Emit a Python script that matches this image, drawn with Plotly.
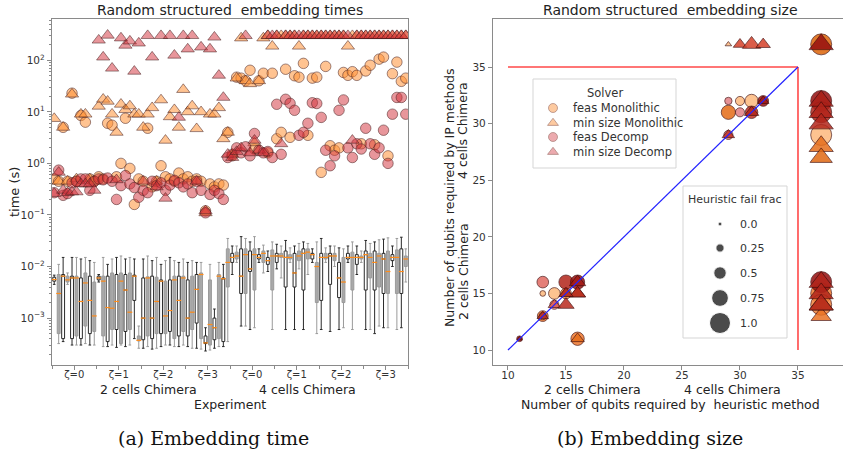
import plotly.graph_objects as go

W, H = 843, 456
def px(x): return x / W
def py(y): return 1 - y / H

# ---------------- data: left panel (embedding times) ----------------
group_labels = ["ζ=0", "ζ=1", "ζ=2", "ζ=3", "ζ=0", "ζ=1", "ζ=2", "ζ=3"]
per_group = 10

box_lo = [4.5e-3,3.2e-4,3.5e-4,4.5e-3,3e-4,3e-4,3e-4,3.2e-4,3e-4,3e-4,
          5e-3,2.8e-4,2.8e-4,3e-4,2.7e-4,3e-4,2.8e-4,3e-4,4e-4,2.6e-4,
          2.6e-4,2.8e-4,2.5e-4,2.6e-4,2.8e-4,3e-4,3e-4,2.8e-4,2.8e-4,3e-4,
          2.8e-4,2.6e-4,2.6e-4,2.5e-4,2.3e-4,2.4e-4,2.6e-4,2.8e-4,2.8e-4,3.5e-4,
          7e-3,1.2e-2,7e-4,7e-4,6e-4,6.5e-4,1.2e-2,7.5e-3,8e-3,6e-4,
          9e-3,6e-3,6e-4,1.2e-2,6e-4,9e-3,6e-4,7e-3,1.2e-2,5e-4,
          6e-4,1.2e-2,5.5e-4,1e-2,6e-4,6.5e-4,1.2e-2,6e-4,7e-3,1.2e-2,
          6e-4,6e-4,5e-4,7e-4,6.5e-4,6.5e-4,1e-2,6e-4,6.5e-4,5e-3]
box_q1 = [5.2e-3,5e-4,4e-4,5e-3,4e-4,4.5e-4,4e-4,7e-4,5e-4,5.5e-4,
          5.5e-3,4.5e-4,3.5e-4,6e-4,6e-4,3.2e-4,5.5e-4,6e-4,2.2e-3,3.6e-4,
          3.8e-4,4.5e-4,4e-4,5e-4,5e-4,5e-4,5.5e-4,4e-4,4.5e-4,5.5e-4,
          4.5e-4,6e-4,8e-4,4e-4,3.2e-4,3e-4,3.8e-4,4e-4,3.5e-4,4e-3,
          1.2e-2,1.4e-2,3e-3,3e-3,8e-3,3.5e-3,1.4e-2,1.2e-2,1.1e-2,3.5e-3,
          1.2e-2,1.5e-2,4e-3,1.4e-2,4e-3,1.3e-2,3.5e-3,1.4e-2,1.4e-2,2e-3,
          2.2e-3,1.4e-2,4.5e-3,1.3e-2,2.5e-3,2e-3,1.4e-2,3.5e-3,1.1e-2,1.4e-2,
          3.5e-3,6e-3,3.5e-3,4e-3,3e-3,3e-3,1.3e-2,3e-3,3e-3,1e-2]
box_med = [5.6e-3,3e-3,6.5e-3,5.5e-3,6e-3,6e-3,2.1e-3,4.8e-3,2.2e-3,1.1e-3,
           6e-3,5.2e-3,1.6e-3,1.55e-3,2.1e-3,5.2e-3,3.5e-3,1.3e-3,6.5e-3,3.7e-4,
           1e-3,6e-3,1e-3,2.1e-3,5.2e-3,1.1e-3,1.4e-3,5.5e-3,2.2e-3,6e-3,
           1e-3,1.3e-3,3.6e-3,7e-3,3.3e-4,7.5e-4,6.5e-4,6.5e-3,5.8e-3,1.2e-2,
           1.5e-2,1.6e-2,6.5e-3,1.7e-2,9e-3,1.7e-2,1.5e-2,1.8e-2,1.3e-2,1.6e-2,
           1.6e-2,1.6e-2,1.5e-2,1.5e-2,7.5e-3,1.6e-2,1.8e-2,1.9e-2,1.7e-2,1e-2,
           1.5e-2,1.5e-2,1.6e-2,1.6e-2,6e-3,5e-3,1.5e-2,1.5e-2,1.5e-2,1.5e-2,
           1.7e-2,1.5e-2,1.2e-2,1.6e-2,1.4e-2,8e-3,1.5e-2,1.5e-2,8e-3,1.4e-2]
box_q3 = [6.2e-3,7e-3,7e-3,6.5e-3,6.5e-3,6.5e-3,6e-3,7.5e-3,6.5e-3,5e-3,
          6.5e-3,6.5e-3,6.5e-3,7.5e-3,7e-3,7.5e-3,7e-3,7.5e-3,6.8e-3,4.5e-4,
          6e-3,6.3e-3,6.5e-3,6.2e-3,5.5e-3,5.2e-3,5.5e-3,6.5e-3,6.5e-3,6.5e-3,
          5.5e-3,6.5e-3,7e-3,7.5e-3,4.5e-4,5.5e-3,1e-3,7e-3,6e-3,2.2e-2,
          1.8e-2,1.9e-2,2.2e-2,2.2e-2,2e-2,2.2e-2,1.7e-2,2e-2,1.5e-2,2.1e-2,
          1.8e-2,1.8e-2,2e-2,1.7e-2,1.8e-2,2e-2,2.2e-2,2.2e-2,1.8e-2,1.2e-2,
          1.8e-2,1.8e-2,1.8e-2,1.8e-2,1.2e-2,1.5e-2,1.8e-2,1.9e-2,1.7e-2,1.6e-2,
          2e-2,1.8e-2,2e-2,1.8e-2,1.8e-2,2e-2,1.7e-2,2.1e-2,2.2e-2,1.6e-2]
box_hi = [6.8e-3,1.1e-2,1.5e-2,7.5e-3,1.5e-2,1.5e-2,1.4e-2,1.5e-2,1.3e-2,1.2e-2,
          7e-3,1.5e-2,1.1e-2,1.4e-2,1.5e-2,1.6e-2,1.4e-2,1.5e-2,1.4e-2,7e-4,
          1.4e-2,1.6e-2,1.3e-2,1.5e-2,1.1e-2,1.3e-2,1.5e-2,1.3e-2,1.2e-2,1.4e-2,
          1.2e-2,1.3e-2,1.2e-2,1.2e-2,6.5e-4,1.1e-2,1.5e-3,1.2e-2,1.1e-2,3.5e-2,
          2.5e-2,2.5e-2,3.8e-2,3.5e-2,3e-2,3.8e-2,2.2e-2,2.6e-2,2e-2,3e-2,
          2.7e-2,2.5e-2,3.2e-2,2.3e-2,2.5e-2,2.8e-2,3e-2,2.8e-2,2.2e-2,3e-2,
          3.5e-2,2.3e-2,2.5e-2,2.5e-2,2.3e-2,2.2e-2,2.5e-2,3e-2,2.5e-2,2e-2,
          3.2e-2,2.8e-2,3e-2,3.3e-2,3.4e-2,3.6e-2,2.5e-2,3.5e-2,3.7e-2,2.2e-2]

feas_mono = [0.5,0.45,5.0,0.45,23,0.45,8.5,6.3,0.5,0.45,
             0.55,0.5,6.0,5.5,0.55,1.0,7.5,0.8,0.16,0.5,
             0.45,4.8,0.35,0.45,0.9,0.55,0.5,0.45,0.65,0.5,
             0.55,0.45,0.5,0.45,0.12,0.4,0.35,0.4,0.38,4.0,
             1.4,47,45,40,64,1.9,40,56,1.6,56,
             3.0,4.0,67,3.2,50,47,87,3.5,45,47,
             0.67,76,2.2,1.8,2.0,58,51,60,51,2.4,
             62,80,2.3,105,115,1.4,55,92,39,45]
min_mono = [7.4,0.45,5.0,0.45,22,0.5,9,9,0.5,0.45,
            12.8,17.5,16,9,4,14,11,13,9,9,
            5,9,12,0.45,17,2.8,8,11,5,27,
            10,13,4.7,10,0.11,9,9,12,3.0,4.0,
            1.5,45,270,40,35,2.5,40,270,300,187,
            300,300,300,300,300,187,300,300,300,300,
            300,300,300,300,300,300,187,300,300,300,
            300,300,300,300,300,300,300,300,300,300]
feas_dec = [0.27,0.74,0.24,0.26,0.42,0.45,0.5,0.5,0.3,0.45,
            0.5,0.48,0.52,0.45,0.2,0.37,0.58,0.4,0.34,0.22,
            0.3,0.27,0.45,0.37,0.42,0.3,0.38,0.47,0.42,0.35,
            0.4,0.27,0.45,0.3,0.11,0.25,0.3,0.26,0.2,1.3,
            1.5,2.0,1.6,2.1,1.4,3.8,1.8,1.6,1.7,1.3,
            14,1.5,17.5,14.6,10.7,3.5,4.0,6.0,15,14.5,
            7.8,1.8,0.9,1.4,10.7,17,2.0,1.3,2.4,1.9,
            4.8,2.4,1.5,2.0,4.4,1.0,9,19,19,9]
min_dec = [0.26,0.67,0.3,0.27,0.28,0.28,0.4,0.4,0.4,0.3,
           245,115,305,70,0.48,270,195,235,61,215,
           0.45,300,115,0.35,300,0.21,300,125,7.8,300,
           165,300,0.45,180,0.12,165,280,51,19,1.5,
           1.3,1.7,2.0,300,1.6,2.8,1.8,1.6,300,300,
           300,2.4,300,300,300,300,300,300,300,300,
           300,300,300,300,300,300,300,2.8,300,300,
           300,300,300,300,300,300,300,300,300,300]

n_inst = len(box_med)
inst_x = [i // per_group + (i % per_group - (per_group - 1) / 2) / per_group for i in range(n_inst)]

# ---------------- data: right panel (embedding size) ----------------
fm_x = [30, 31, 29, 37, 37, 13, 14, 15, 13, 16, 37, 37]
fm_y = [32, 32, 31, 37, 29, 15, 15, 15, 13, 11, 15, 14]
fm_f = [0.3, 0.55, 0.6, 1.0, 1.0, 0.1, 0.45, 0.4, 0.4, 0.55, 1.0, 1.0]
fm_s = [0.0, 0.0, 0.75, 0.9, 0.0, 0.0, 0.0, 0.3, 0.5, 0.5, 0.5, 0.4]

mm_x = [29, 15, 16, 16, 37, 37, 37, 37]
mm_y = [37, 15, 15, 11, 28, 27, 13, 14]
mm_f = [0.1, 0.4, 0.55, 0.45, 1.0, 0.9, 0.8, 1.0]
mm_s = [0.0, 0.5, 0.6, 0.7, 0.7, 0.8, 0.6, 0.6]

fd_x = [29, 30, 32, 31, 29, 13, 14, 15, 16, 13, 11, 37, 37, 37]
fd_y = [32, 31, 32, 31, 29, 16, 14, 16, 16, 13, 11, 32, 31, 16]
fd_f = [0.2, 0.3, 0.4, 0.5, 0.3, 0.45, 0.3, 0.6, 0.6, 0.2, 0.1, 1.0, 1.0, 1.0]
fd_s = [0.0, 0.0, 1.0, 0.7, 0.0, 0.2, 0.0, 0.8, 1.0, 0.0, 0.9, 1.0, 0.8, 1.0]

md_x = [30, 31, 32, 37, 32, 31, 29, 14, 15, 16, 16, 13, 11, 37, 37, 37, 37, 37, 37, 15]
md_y = [37, 37, 37, 37, 32, 31, 29, 14, 14, 16, 15, 13, 11, 32, 31, 30, 16, 15, 14, 15]
md_f = [0.45, 0.7, 0.5, 1.0, 0.35, 0.5, 0.4, 0.4, 0.6, 0.6, 0.6, 0.35, 0.05, 1.0, 1.0, 1.0, 1.0, 1.0, 1.0, 0.5]
md_s = [0.55, 0.55, 0.55, 1.0, 0.9, 0.8, 0.7, 0.3, 0.75, 0.9, 0.8, 0.8, 0.9, 0.85, 0.8, 0.8, 0.8, 0.8, 0.8, 0.8]

solver_names = ["feas Monolithic", "min size Monolithic", "feas Decomp", "min size Decomp"]
frac_legend = [0.0, 0.25, 0.5, 0.75, 1.0]

# ---------------- styles ----------------
FONT = "DejaVu Sans"
ORANGE = "rgba(255,145,55,0.55)"
PINK = "rgba(210,45,55,0.5)"
EDGE = "rgba(70,30,30,0.65)"
orange_scale = [[0, "rgb(253,185,125)"], [0.5, "rgb(240,120,45)"], [1, "rgb(215,95,0)"]]
red_scale = [[0, "rgb(226,128,132)"], [0.5, "rgb(220,70,45)"], [1, "rgb(150,15,15)"]]

def msize(f):
    return [4 + 17 * v for v in f]

fig = go.Figure()

# boxes: alternate white / gray
for parity, fill, lc in [(0, "white", "#2a2a2a"), (1, "#a9a9a9", "#9a9a9a")]:
    idx = [i for i in range(n_inst) if i % 2 == parity]
    fig.add_trace(go.Box(
        x=[inst_x[i] for i in idx],
        q1=[box_q1[i] for i in idx], median=[box_med[i] for i in idx],
        q3=[box_q3[i] for i in idx], lowerfence=[box_lo[i] for i in idx],
        upperfence=[box_hi[i] for i in idx],
        width=0.065, whiskerwidth=0.9, fillcolor=fill,
        line=dict(color=lc, width=1), boxpoints=False,
        xaxis="x", yaxis="y", showlegend=False, hoverinfo="skip"))
fig.add_trace(go.Scatter(x=inst_x, y=box_med, mode="markers",
                         marker=dict(symbol="line-ew", size=3.5, line=dict(color="#ff8c1a", width=1.2)),
                         xaxis="x", yaxis="y", showlegend=False, hoverinfo="skip"))

for vals, sym, col in [(feas_mono, "circle", ORANGE), (min_mono, "triangle-up", ORANGE),
                       (feas_dec, "circle", PINK), (min_dec, "triangle-up", PINK)]:
    fig.add_trace(go.Scatter(
        x=inst_x, y=vals, mode="markers",
        marker=dict(symbol=sym, size=10.5 if sym == "circle" else 11.5, color=col,
                    line=dict(color=EDGE, width=0.8)),
        xaxis="x", yaxis="y", showlegend=False))

# right panel points
for xs, ys, fs, ss, sym, scale in [(fm_x, fm_y, fm_f, fm_s, "circle", orange_scale),
                                   (mm_x, mm_y, mm_f, mm_s, "triangle-up", orange_scale),
                                   (fd_x, fd_y, fd_f, fd_s, "circle", red_scale),
                                   (md_x, md_y, md_f, md_s, "triangle-up", red_scale)]:
    fig.add_trace(go.Scatter(
        x=xs, y=ys, mode="markers",
        marker=dict(symbol=sym, size=msize(fs), color=ss, cmin=0, cmax=1,
                    colorscale=scale, showscale=False, opacity=0.85,
                    line=dict(color="rgba(60,10,10,0.75)", width=1)),
        xaxis="x2", yaxis="y2", showlegend=False))

# legend glyphs on a pixel-coordinate overlay
leg_rows = [108, 123, 137, 152]
leg_sym = ["circle", "triangle-up", "circle", "triangle-up"]
leg_col = ["rgb(253,180,120)", "rgb(253,180,120)", "rgb(228,135,140)", "rgb(228,135,140)"]
fig.add_trace(go.Scatter(x=[553] * 4, y=leg_rows, mode="markers",
                         marker=dict(symbol=leg_sym, size=[9, 9.5, 9, 9.5], color=leg_col,
                                     line=dict(color="rgba(120,60,50,0.8)", width=0.8)),
                         xaxis="x3", yaxis="y3", showlegend=False, hoverinfo="skip"))
frac_rows = [224, 248, 273, 298, 323]
fig.add_trace(go.Scatter(x=[720] * 5, y=frac_rows, mode="markers",
                         marker=dict(symbol="circle", size=msize(frac_legend), color="black"),
                         xaxis="x3", yaxis="y3", showlegend=False, hoverinfo="skip"))

AX_LINE = dict(showline=True, linecolor="#8a8a8a", linewidth=1.3, ticks="outside",
               ticklen=4, tickcolor="#8a8a8a", showgrid=False, zeroline=False)
TICKFONT = dict(family=FONT, size=10.5, color="#333")

log_minor = [k * 10.0 ** e for e in range(-4, 3) for k in range(2, 10)]

fig.update_layout(
    width=W, height=H, margin=dict(l=0, r=0, t=0, b=0),
    paper_bgcolor="white", plot_bgcolor="rgba(0,0,0,0)", showlegend=False,
    font=dict(family=FONT, color="#222"),
    xaxis=dict(domain=[px(52), px(408)], range=[-0.5, 7.5], tickmode="array",
               tickvals=list(range(len(group_labels))), ticktext=group_labels,
               mirror=True, anchor="y", tickfont=dict(family=FONT, size=10, color="#333"),
               ticklabelstandoff=-4,
               minor=dict(ticks="outside", ticklen=2.5, tickcolor="#8a8a8a",
                          tickmode="array", tickvals=[g + 0.5 for g in range(-1, 8)]),
               **AX_LINE),
    yaxis=dict(domain=[py(365), py(19)], type="log", range=[-3.91, 2.8], tickmode="array",
               tickvals=[1e-3, 1e-2, 1e-1, 1, 10, 100],
               ticktext=["10<sup>−3</sup>", "10<sup>−2</sup>", "10<sup>−1</sup>",
                         "10<sup>0</sup>", "10<sup>1</sup>", "10<sup>2</sup>"],
               mirror=True, anchor="x", tickfont=TICKFONT,
               minor=dict(ticks="outside", ticklen=2, tickcolor="#8a8a8a",
                          tickmode="array", tickvals=log_minor),
               **AX_LINE),
    xaxis2=dict(domain=[px(493), 1.0], range=[8.71, 38.88], tickmode="array",
                tickvals=[10, 15, 20, 25, 30, 35], mirror=True, anchor="y2",
                ticklabelstandoff=-4, tickfont=TICKFONT, **AX_LINE),
    yaxis2=dict(domain=[py(365), py(19)], range=[8.68, 39.24], tickmode="array",
                tickvals=[10, 15, 20, 25, 30, 35], mirror=False, anchor="x2",
                tickfont=TICKFONT, **AX_LINE),
    xaxis3=dict(domain=[0, 1], range=[0, W], visible=False, anchor="y3", fixedrange=True),
    yaxis3=dict(domain=[0, 1], range=[H, 0], visible=False, anchor="x3", fixedrange=True),
)

# reference lines in right panel
fig.add_shape(type="line", xref="x2", yref="y2", x0=10, y0=35, x1=35, y1=35,
              line=dict(color="rgba(255,40,40,0.85)", width=1.6), layer="above")
fig.add_shape(type="line", xref="x2", yref="y2", x0=35, y0=10, x1=35, y1=35,
              line=dict(color="rgba(255,40,40,0.85)", width=1.6), layer="above")
fig.add_shape(type="line", xref="x2", yref="y2", x0=10, y0=10, x1=35, y1=35,
              line=dict(color="#2222ff", width=1.2), layer="above")

# legend boxes
for x0, y0, x1, y1 in [(533, 79, 676, 168), (683, 186, 787, 338)]:
    fig.add_shape(type="rect", xref="paper", yref="paper", x0=px(x0), y0=py(y1), x1=px(x1), y1=py(y0),
                  line=dict(color="#d5d5d5", width=1), fillcolor="white", layer="below")

def ann(text, x, y, size, angle=0, xanchor="center", color="#222", family=FONT):
    fig.add_annotation(text=text, x=px(x), y=py(y), xref="paper", yref="paper", showarrow=False,
                       xanchor=xanchor, yanchor="middle", textangle=angle,
                       font=dict(family=family, size=size, color=color))

ann("Random structured  embedding times", 230, 10, 14)
ann("Random structured  embedding size", 670, 10, 14)
ann("time (s)", 14, 192, 13, angle=-90)
ann("2 cells Chimera", 148, 389, 12.5)
ann("4 cells Chimera", 307, 389, 12.5)
ann("Experiment", 230, 404, 12.5)
ann("2 cells Chimera", 592, 389, 12.5)
ann("4 cells Chimera", 732, 389, 12.5)
ann("Number of qubits required by  heuristic method", 670, 404, 12.5)
ann("Number of qubits required by IP methods", 449, 197, 12.5, angle=-90)
ann("4 cells Chimera", 463, 131, 12.5, angle=-90)
ann("2 cells Chimera", 463, 272, 12.5, angle=-90)
ann("Solver", 605, 93, 11.5, color="#333")
for name, yy in zip(solver_names, leg_rows):
    ann(name, 571, yy, 11.5, xanchor="left", color="#333")
ann("Heuristic fail frac", 735, 199, 11, color="#333")
for v, yy in zip(frac_legend, frac_rows):
    ann(str(v), 738, yy, 11, xanchor="left", color="#333")
ann("(a) Embedding time", 213, 438, 19, family="DejaVu Serif", color="#111")
ann("(b) Embedding size", 650, 438, 19, family="DejaVu Serif", color="#111")

fig.write_html("out.html")
